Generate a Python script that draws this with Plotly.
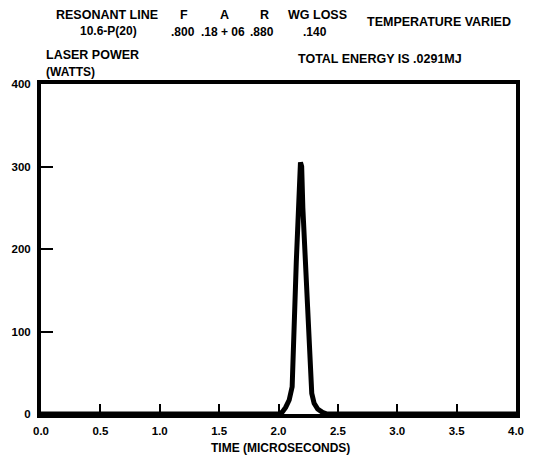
import plotly.graph_objects as go

# Data
time_us = [0.0, 1.0, 2.0, 2.03, 2.06, 2.09, 2.115, 2.15, 2.175, 2.185, 2.195, 2.205,
           2.245, 2.28, 2.30, 2.33, 2.37, 2.41, 3.0, 4.0]
power_w = [0, 0, 0, 2, 8, 17, 33, 185, 295, 305, 300, 250,
           130, 25, 13, 6, 2, 0, 0, 0]

x_ticks = [0.0, 0.5, 1.0, 1.5, 2.0, 2.5, 3.0, 3.5, 4.0]
x_ticktext = ["0.0", "0.5", "1.0", "1.5", "2.0", "2.5", "3.0", "3.5", "4.0"]
y_ticks = [0, 100, 200, 300, 400]
y_ticktext = ["0", "100", "200", "300", "400"]

W, H = 533, 458
L, R, T, B = 41, 9, 84, 44
pw, ph = W - L - R, H - T - B

def px(x):
    return (x - L) / pw

def py(y):
    return (H - B - y) / ph

FONT = "Liberation Sans, Arial, sans-serif"

fig = go.Figure()
fig.add_trace(go.Scatter(x=time_us, y=power_w, mode="lines",
                         line=dict(color="black", width=5), showlegend=False))

header = [
    ("RESONANT LINE", 108, 15, 12.5),
    ("10.6-P(20)", 110, 31, 12),
    ("F", 186, 15, 12.5),
    (".800", 185, 32, 12),
    ("A", 228, 15, 12.5),
    (".18 + 06", 226, 32, 12),
    ("R", 268, 15, 12.5),
    (".880", 266, 32, 12),
    ("WG LOSS", 322, 15, 12.5),
    (".140", 320, 32, 12),
    ("TEMPERATURE VARIED", 446, 22, 12.5),
    ("TOTAL ENERGY IS .0291MJ", 386, 59, 12.5),
]
for txt, x, y, s in header:
    fig.add_annotation(text=txt, x=px(x), y=py(y), xref="paper", yref="paper",
                       showarrow=False, xanchor="center", yanchor="middle",
                       font=dict(family=FONT, size=s, color="black", weight="bold"))

fig.add_annotation(text="LASER POWER", x=px(44), y=py(55), xref="paper", yref="paper",
                   showarrow=False, xanchor="left", yanchor="middle",
                   font=dict(family=FONT, size=12.5, color="black", weight="bold"))
fig.add_annotation(text="(WATTS)", x=px(44), y=py(72), xref="paper", yref="paper",
                   showarrow=False, xanchor="left", yanchor="middle",
                   font=dict(family=FONT, size=12, color="black", weight="bold"))
fig.add_annotation(text="TIME (MICROSECONDS)", x=px(285), y=py(448), xref="paper", yref="paper",
                   showarrow=False, xanchor="center", yanchor="middle",
                   font=dict(family=FONT, size=12, color="black", weight="bold"))

fig.update_layout(
    width=W, height=H,
    margin=dict(l=L, r=R, t=T, b=B),
    paper_bgcolor="white", plot_bgcolor="white",
    xaxis=dict(range=[0, 4], tickvals=x_ticks, ticktext=x_ticktext,
               ticks="inside", ticklen=10, tickwidth=2, tickcolor="black",
               showline=True, linewidth=4, linecolor="black", mirror=True,
               showgrid=False, zeroline=False, ticklabelstandoff=3,
               tickfont=dict(family=FONT, size=11.5, color="black", weight="bold")),
    yaxis=dict(range=[0, 400], tickvals=y_ticks, ticktext=y_ticktext,
               ticks="inside", ticklen=12, tickwidth=2, tickcolor="black",
               showline=True, linewidth=4, linecolor="black", mirror=True,
               showgrid=False, zeroline=False, ticklabelstandoff=4,
               tickfont=dict(family=FONT, size=11.5, color="black", weight="bold")),
)

fig.write_html("out.html")
